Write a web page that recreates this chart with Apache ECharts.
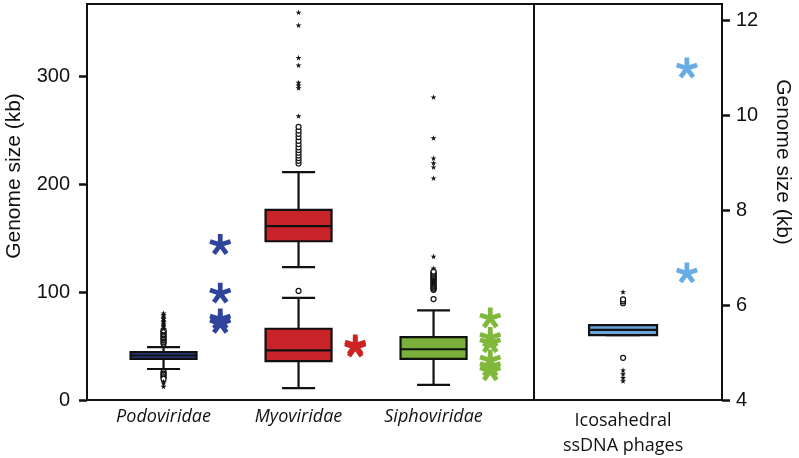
<!DOCTYPE html>
<html>
<head>
<meta charset="utf-8">
<script src="https://cdn.jsdelivr.net/npm/echarts@6/dist/echarts.min.js"></script>
<style>html,body{margin:0;padding:0;background:#fff}#c{width:799px;height:458px}</style>
</head>
<body>
<div id="c"></div>
<script>
// ---------- data ----------
const categories = ['Podoviridae', 'Myoviridae', 'Siphoviridae'];
const ssdnaCategory = 'Icosahedral\nssDNA phages';
const leftTicks = [0, 100, 200, 300];
const rightTicks = [4, 6, 8, 10, 12];

// box stats: [min, Q1, median, Q3, max] (kb)
const podoBox = [28.7, 38, 41.2, 44.4, 49];
const myoLargeBox = [123, 147, 161, 176, 211];
const myoSmallBox = [11, 36, 46, 66, 94.5];
const siphoBox = [14, 38, 47, 58.3, 83];
const ssdnaBox = [5.37, 5.37, 5.48, 5.58, 5.58];

// outliers (open circles) and extremes (small stars)
const podoCircles = [52, 53.5, 55, 56, 57.5, 58.5, 60, 61, 62.5, 63.5, 64.5, 26, 24.5, 23.5, 22, 21, 19.5];
const podoStars = [66, 67.5, 68.5, 70, 71, 72.5, 73.5, 75, 76, 77.5, 79, 80.5, 17, 15.5, 12.5];
const myoCircles = [101, 219, 221.5, 224, 226.5, 229, 231.5, 234, 237, 240, 243.5, 246.5, 249.5, 253];
const myoStars = [263, 289, 291.5, 294, 310, 317, 347, 359];
const siphoCircles = [93.5, 102, 103, 104, 105, 106, 107, 108, 109, 110, 111, 112, 113, 114, 115, 116, 117, 118, 119];
const siphoStars = [122, 133, 205.5, 215.7, 219.5, 224, 242.6, 280.5];
const ssdnaCircles = [6.04, 6.08, 6.12, 4.89];
const ssdnaStars = [6.28, 4.63, 4.55, 4.47, 4.4];

// highlighted genomes (large asterisks)
const podoHighlights = [144, 99, 75, 71];
const myoHighlights = [51, 49];
const siphoHighlights = [76, 58, 53, 37, 31, 27];
const ssdnaHighlights = [11.0, 6.68];

// ---------- styling ----------
const tickFont = 'Liberation Sans, Arial, Helvetica, sans-serif';
const catFont = 'Open Sans, Noto Sans, sans-serif';
const HL_OFFSET = 0.42;

function asteriskPath(n, w) {
  let d = '';
  for (let i = 0; i < n; i++) {
    const a = i * 2 * Math.PI / n;
    const dx = Math.sin(a), dy = -Math.cos(a), px = Math.cos(a), py = Math.sin(a);
    const pts = [
      [50 + px * w / 2, 50 + py * w / 2],
      [50 + dx * 50 + px * w / 2, 50 + dy * 50 + py * w / 2],
      [50 + dx * 50 - px * w / 2, 50 + dy * 50 - py * w / 2],
      [50 - px * w / 2, 50 - py * w / 2]
    ];
    d += 'M' + pts.map(p => p[0].toFixed(2) + ',' + p[1].toFixed(2)).join('L') + 'Z';
  }
  return 'path://' + d;
}
const ASTERISK = asteriskPath(5, 22);
const STAR = 'path://M50,0L61,35L98,35L68,57L79,91L50,70L21,91L32,57L2,35L39,35Z';

function boxSeries(xIdx, stats, color, gridIdx, boxW) {
  return {
    type: 'custom',
    xAxisIndex: gridIdx, yAxisIndex: gridIdx,
    data: [[xIdx].concat(stats)],
    z: 3,
    renderItem: function (params, api) {
      const x = api.value(0);
      const c = i => api.coord([x, api.value(i)]);
      const pMin = c(1), pQ1 = c(2), pMed = c(3), pQ3 = c(4), pMax = c(5);
      const cx = pMin[0], hw = boxW / 2, cw = boxW / 4;
      const ls = { stroke: '#111', lineWidth: 2.2 };
      return {
        type: 'group',
        children: [
          { type: 'line', shape: { x1: cx, y1: pQ3[1], x2: cx, y2: pMax[1] }, style: ls },
          { type: 'line', shape: { x1: cx, y1: pQ1[1], x2: cx, y2: pMin[1] }, style: ls },
          { type: 'line', shape: { x1: cx - cw, y1: pMax[1], x2: cx + cw, y2: pMax[1] }, style: ls },
          { type: 'line', shape: { x1: cx - cw, y1: pMin[1], x2: cx + cw, y2: pMin[1] }, style: ls },
          { type: 'rect', shape: { x: cx - hw, y: pQ3[1], width: boxW, height: pQ1[1] - pQ3[1] },
            style: { fill: color, stroke: '#111', lineWidth: 2.2 } },
          { type: 'line', shape: { x1: cx - hw, y1: pMed[1], x2: cx + hw, y2: pMed[1] }, style: ls }
        ]
      };
    }
  };
}

function pointSeries(xVal, values, symbol, size, color, gridIdx, extra) {
  return Object.assign({
    type: 'scatter',
    xAxisIndex: gridIdx, yAxisIndex: gridIdx,
    symbol: symbol, symbolSize: size, symbolKeepAspect: true,
    data: values.map(v => [xVal, v]),
    itemStyle: { color: color, opacity: 1 },
    z: 4, silent: true
  }, extra || {});
}
function circles(xVal, values, gridIdx) {
  return pointSeries(xVal, values, 'circle', 5, '#fff', gridIdx,
    { itemStyle: { color: '#fff', borderColor: '#111', borderWidth: 1.2, opacity: 1 } });
}

const series = [
  boxSeries(0, podoBox, '#2b3d8c', 0, 66),
  boxSeries(1, myoLargeBox, '#c9232a', 0, 66),
  boxSeries(1, myoSmallBox, '#c9232a', 0, 66),
  boxSeries(2, siphoBox, '#79b13a', 0, 66),
  boxSeries(0, ssdnaBox, '#6aa5da', 1, 68),
  circles(0, podoCircles, 0),
  circles(1, myoCircles, 0),
  circles(2, siphoCircles, 0),
  circles(0, ssdnaCircles, 1),
  pointSeries(0, podoStars, STAR, 6, '#111', 0),
  pointSeries(1, myoStars, STAR, 6, '#111', 0),
  pointSeries(2, siphoStars, STAR, 6, '#111', 0),
  pointSeries(0, ssdnaStars, STAR, 6, '#111', 1),
  pointSeries(0 + HL_OFFSET, podoHighlights, ASTERISK, 22, '#2f449a', 0),
  pointSeries(1 + HL_OFFSET, myoHighlights, ASTERISK, 22, '#cc2424', 0),
  pointSeries(2 + HL_OFFSET, siphoHighlights, ASTERISK, 22, '#80b83c', 0),
  pointSeries(0 + HL_OFFSET, ssdnaHighlights, ASTERISK, 22, '#68ace4', 1)
];

const chart = echarts.init(document.getElementById('c'), null, { renderer: 'canvas' });
chart.setOption({
  animation: false,
  backgroundColor: '#fff',
  grid: [
    { left: 87, top: 4, width: 447, height: 396, show: true, borderColor: '#111', borderWidth: 2, backgroundColor: 'transparent' },
    { left: 534, top: 4, width: 188, height: 396, show: true, borderColor: '#111', borderWidth: 2, backgroundColor: 'transparent' }
  ],
  xAxis: [
    { type: 'value', gridIndex: 0, min: -0.567, max: 2.744,
      axisLine: { show: false, onZero: false }, axisTick: { show: false }, splitLine: { show: false },
      axisLabel: { customValues: [0, 1, 2], formatter: v => categories[Math.round(v)],
        fontFamily: catFont, fontStyle: 'italic', fontSize: 18, color: '#111', margin: 8 } },
    { type: 'value', gridIndex: 1, min: -0.586, max: 0.651,
      axisLine: { show: false, onZero: false }, axisTick: { show: false }, splitLine: { show: false },
      axisLabel: { customValues: [0], formatter: () => ssdnaCategory,
        fontFamily: catFont, fontSize: 18, lineHeight: 25, color: '#111', margin: 8 } }
  ],
  yAxis: [
    { type: 'value', gridIndex: 0, position: 'left', min: 0, max: 366.7,
      splitLine: { show: false },
      axisLine: { show: true, onZero: false, lineStyle: { color: '#111', width: 2 } },
      axisTick: { show: true, length: 8, customValues: leftTicks, lineStyle: { color: '#111', width: 2.5 } },
      axisLabel: { customValues: leftTicks, fontFamily: tickFont, fontSize: 20, color: '#111', margin: 17 } },
    { type: 'value', gridIndex: 1, position: 'right', min: 4, max: 12.35,
      splitLine: { show: false },
      axisLine: { show: true, onZero: false, lineStyle: { color: '#111', width: 2 } },
      axisTick: { show: true, length: 8, customValues: rightTicks, lineStyle: { color: '#111', width: 2.5 } },
      axisLabel: { customValues: rightTicks, fontFamily: tickFont, fontSize: 20, color: '#111', margin: 14 } }
  ],
  graphic: [
    { type: 'text', x: 14, y: 176, rotation: Math.PI / 2,
      style: { text: 'Genome size (kb)', font: '21px ' + tickFont, fill: '#111', textAlign: 'center', textVerticalAlign: 'middle' } },
    { type: 'text', x: 783, y: 162, rotation: -Math.PI / 2,
      style: { text: 'Genome size (kb)', font: '21px ' + tickFont, fill: '#111', textAlign: 'center', textVerticalAlign: 'middle' } }
  ],
  series: series
});
</script>
</body>
</html>
